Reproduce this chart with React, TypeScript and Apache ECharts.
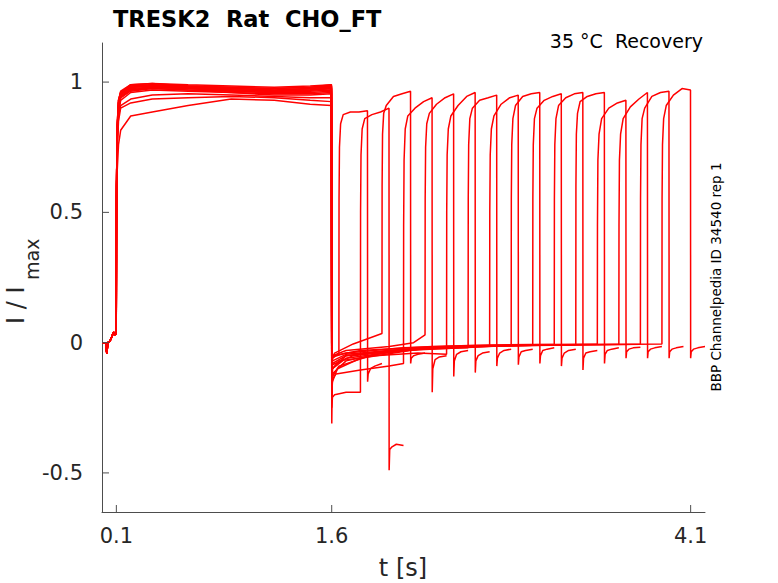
import { useEffect, useRef } from "react";
import * as echarts from "echarts";

// ----- data -----
// shared baseline before the conditioning pulse (t, I/Imax)
const baseline: [number, number][] = [
    [0, 0], [0.025, 0], [0.034, -0.043], [0.04, 0.0], [0.055, 0.005],
    [0.07, 0.025], [0.08, 0.04], [0.09, 0.03], [0.099, 0.035],
];

// conditioning pulse 0.1 -> 1.6 s, one row per sweep
const preTimes = [0.1, 0.101, 0.106, 0.115, 0.13, 0.2, 0.35, 0.6, 0.9, 1.2, 1.45, 1.598];
const preLevels = [
    [0.035, 0.6, 0.82, 0.92, 0.96, 0.985, 0.99, 0.985, 0.975, 0.97, 0.975, 0.985],
    [0.035, 0.45, 0.66, 0.76, 0.815, 0.87, 0.885, 0.91, 0.935, 0.93, 0.915, 0.91],
    [0.035, 0.55, 0.8, 0.9, 0.94, 0.97, 0.98, 0.975, 0.97, 0.965, 0.97, 0.975],
    [0.035, 0.5, 0.74, 0.85, 0.9, 0.92, 0.935, 0.94, 0.945, 0.94, 0.93, 0.925],
    [0.035, 0.6, 0.83, 0.93, 0.96, 0.99, 0.995, 0.985, 0.98, 0.975, 0.98, 0.99],
    [0.035, 0.55, 0.78, 0.88, 0.93, 0.96, 0.97, 0.965, 0.96, 0.955, 0.955, 0.96],
    [0.035, 0.6, 0.82, 0.91, 0.95, 0.98, 0.985, 0.98, 0.97, 0.965, 0.97, 0.975],
    [0.035, 0.5, 0.76, 0.87, 0.91, 0.935, 0.95, 0.955, 0.95, 0.945, 0.94, 0.94],
    [0.035, 0.6, 0.84, 0.93, 0.965, 0.99, 0.995, 0.99, 0.985, 0.98, 0.985, 0.99],
    [0.035, 0.55, 0.8, 0.9, 0.945, 0.975, 0.98, 0.975, 0.965, 0.96, 0.965, 0.97],
    [0.035, 0.6, 0.82, 0.92, 0.955, 0.98, 0.985, 0.98, 0.975, 0.97, 0.975, 0.98],
    [0.035, 0.55, 0.78, 0.89, 0.94, 0.965, 0.975, 0.97, 0.96, 0.95, 0.95, 0.955],
    [0.035, 0.6, 0.83, 0.93, 0.96, 0.985, 0.99, 0.985, 0.98, 0.975, 0.98, 0.985],
    [0.035, 0.55, 0.79, 0.9, 0.94, 0.97, 0.975, 0.97, 0.965, 0.96, 0.96, 0.965],
    [0.035, 0.6, 0.82, 0.92, 0.955, 0.98, 0.985, 0.98, 0.97, 0.965, 0.97, 0.98],
    [0.035, 0.55, 0.8, 0.9, 0.945, 0.97, 0.98, 0.975, 0.97, 0.965, 0.97, 0.975],
];

// tail currents between the two pulses (t, I/Imax)
const recoveryTails: [number, number][][] = [
    [[1.6005, -0.12], [1.605, -0.06], [1.63, -0.05], [1.65, -0.045]],
    [[1.6005, -0.25], [1.605, -0.21], [1.62, -0.2], [1.7, -0.19], [1.8, -0.19]],
    [[1.6005, -0.15], [1.605, -0.06], [1.62, -0.04], [1.75, -0.005], [1.95, 0.035]],
    [[1.6005, -0.2], [1.605, -0.14], [1.63, -0.12], [1.8, -0.105], [2.0, -0.09], [2.1, -0.08]],
    [[1.6005, -0.1], [1.605, -0.05], [1.7, -0.03], [2.0, -0.015], [2.17, 0.0], [2.25, 0.03]],
    [[1.6005, -0.18], [1.605, -0.1], [1.65, -0.07], [1.9, -0.05], [2.2, -0.04], [2.4, -0.045]],
    [[1.6005, -0.22], [1.605, -0.13], [1.65, -0.09], [1.9, -0.045], [2.2, -0.025], [2.55, -0.02]],
    [[1.6005, -0.15], [1.605, -0.08], [1.7, -0.05], [2.0, -0.03], [2.4, -0.015], [2.7, -0.012]],
    [[1.6005, -0.2], [1.605, -0.15], [1.64, -0.1], [1.8, -0.06], [2.2, -0.025], [2.6, -0.012], [2.85, -0.01]],
    [[1.6005, -0.13], [1.605, -0.07], [1.7, -0.045], [2.0, -0.03], [2.5, -0.015], [3.0, -0.01]],
    [[1.6005, -0.1], [1.605, -0.055], [1.7, -0.04], [2.1, -0.02], [2.6, -0.01], [3.15, -0.006]],
    [[1.6005, -0.2], [1.605, -0.12], [1.7, -0.07], [2.0, -0.035], [2.5, -0.015], [3.3, -0.008]],
    [[1.6005, -0.09], [1.605, -0.05], [1.8, -0.03], [2.3, -0.015], [3.0, -0.008], [3.45, -0.005]],
    [[1.6005, -0.16], [1.605, -0.085], [1.75, -0.05], [2.2, -0.022], [3.0, -0.01], [3.6, -0.006]],
    [[1.6005, -0.14], [1.605, -0.1], [1.7, -0.06], [2.1, -0.03], [2.8, -0.012], [3.75, -0.006]],
    [[1.6005, -0.31], [1.605, -0.1], [1.7, -0.05], [2.1, -0.025], [2.9, -0.01], [3.9, -0.005]],
];

// test pulse onsets (s)
const testStart = [1.65, 1.8, 1.95, 2.1, 2.25, 2.4, 2.55, 2.7, 2.85, 3.0, 3.15, 3.3, 3.45, 3.6, 3.75, 3.9];

// test pulse, time after onset (s) and level per sweep
const testOffsets = [0.001, 0.004, 0.012, 0.03, 0.08, 0.14, 0.199];
const testLevels = [
    [0.55, 0.75, 0.84, 0.875, 0.885, 0.885, 0.89],
    [0.5, 0.72, 0.82, 0.86, 0.875, 0.885, 0.9],
    [0.6, 0.8, 0.88, 0.91, 0.945, 0.955, 0.965],
    [0.45, 0.7, 0.82, 0.87, 0.9, 0.925, 0.94],
    [0.55, 0.75, 0.84, 0.88, 0.915, 0.94, 0.955],
    [0.5, 0.72, 0.82, 0.87, 0.91, 0.945, 0.96],
    [0.55, 0.76, 0.86, 0.9, 0.93, 0.94, 0.95],
    [0.5, 0.72, 0.82, 0.87, 0.915, 0.94, 0.95],
    [0.55, 0.76, 0.86, 0.91, 0.945, 0.955, 0.96],
    [0.55, 0.76, 0.86, 0.9, 0.93, 0.945, 0.955],
    [0.55, 0.76, 0.86, 0.91, 0.94, 0.955, 0.96],
    [0.6, 0.8, 0.88, 0.925, 0.945, 0.955, 0.96],
    [0.45, 0.7, 0.8, 0.86, 0.9, 0.92, 0.93],
    [0.45, 0.7, 0.8, 0.86, 0.905, 0.935, 0.96],
    [0.55, 0.76, 0.86, 0.9, 0.945, 0.96, 0.965],
    [0.55, 0.76, 0.86, 0.91, 0.95, 0.975, 0.97],
];

// tail after the test pulse, time after onset (s) and level per sweep
const postOffsets = [0.2, 0.204, 0.22, 0.25, 0.3];
const postLevels = [
    [-0.15, -0.12, -0.1, -0.09, -0.08],
    [-0.49, -0.41, -0.4, -0.39, -0.395],
    [-0.08, -0.06, -0.05, -0.045, -0.04],
    [-0.19, -0.1, -0.065, -0.055, -0.05],
    [-0.13, -0.07, -0.045, -0.035, -0.03],
    [-0.115, -0.07, -0.05, -0.04, -0.035],
    [-0.09, -0.06, -0.04, -0.03, -0.025],
    [-0.085, -0.055, -0.035, -0.03, -0.025],
    [-0.08, -0.05, -0.03, -0.025, -0.02],
    [-0.09, -0.06, -0.04, -0.03, -0.025],
    [-0.105, -0.06, -0.04, -0.035, -0.03],
    [-0.08, -0.045, -0.03, -0.025, -0.02],
    [-0.06, -0.035, -0.025, -0.02, -0.018],
    [-0.06, -0.035, -0.025, -0.02, -0.015],
    [-0.06, -0.035, -0.025, -0.02, -0.015],
    [-0.06, -0.035, -0.025, -0.02, -0.015],
];

const xTicks = [0.1, 1.6, 4.1];
const yTicks = [-0.5, 0, 0.5, 1];
const X_MIN = 0;
const X_MAX = 4.2;
const Y_MIN = -0.65;
const Y_MAX = 1.15;

const FONT = "'DejaVu Sans', sans-serif";
const AXIS_GREY = "#4d4d4d";
const TICK_LEN = 7;

function buildSweep(i: number): [number, number][] {
    const pts: [number, number][] = [...baseline];
    preTimes.forEach((t, k) => pts.push([t, preLevels[i][k]]));
    recoveryTails[i].forEach((p) => pts.push(p));
    const t0 = testStart[i];
    testOffsets.forEach((dt, k) => pts.push([t0 + dt, testLevels[i][k]]));
    postOffsets.forEach((dt, k) => pts.push([t0 + dt, postLevels[i][k]]));
    return pts;
}

export default function App() {
    const containerRef = useRef<HTMLDivElement | null>(null);

    useEffect(() => {
        if (!containerRef.current) return;
        const chart = echarts.init(containerRef.current, undefined, { renderer: "svg" });

        const series = testStart.map((_, i) => ({
            type: "line" as const,
            data: buildSweep(i),
            showSymbol: false,
            symbol: "none",
            silent: true,
            lineStyle: { width: 1.5, color: "#ff0000" },
        }));

        const texts: any[] = [
            {
                type: "text",
                x: 113,
                y: 19,
                style: {
                    text: "TRESK2  Rat  CHO_FT",
                    fontFamily: FONT,
                    fontWeight: "bold",
                    fontSize: 22.5,
                    fill: "#000000",
                    textAlign: "left",
                    textVerticalAlign: "middle",
                },
            },
            {
                type: "text",
                x: 703,
                y: 41,
                style: {
                    text: "35 °C  Recovery",
                    fontFamily: FONT,
                    fontSize: 19,
                    fill: "#000000",
                    textAlign: "right",
                    textVerticalAlign: "middle",
                },
            },
            {
                type: "text",
                x: 716,
                y: 277,
                rotation: Math.PI / 2,
                style: {
                    text: "BBP Channelpedia ID 34540 rep 1",
                    fontFamily: FONT,
                    fontSize: 13.5,
                    fill: "#000000",
                    textAlign: "center",
                    textVerticalAlign: "middle",
                },
            },
            {
                type: "text",
                x: 16,
                y: 324,
                rotation: Math.PI / 2,
                style: {
                    text: "I / I",
                    fontFamily: FONT,
                    fontSize: 24,
                    fill: "#262626",
                    textAlign: "left",
                    textVerticalAlign: "middle",
                },
            },
            {
                type: "text",
                x: 31.5,
                y: 280,
                rotation: Math.PI / 2,
                style: {
                    text: "max",
                    fontFamily: FONT,
                    fontSize: 19,
                    fill: "#262626",
                    textAlign: "left",
                    textVerticalAlign: "middle",
                },
            },
            {
                type: "text",
                x: 403,
                y: 568,
                style: {
                    text: "t [s]",
                    fontFamily: FONT,
                    fontSize: 24,
                    fill: "#262626",
                    textAlign: "center",
                    textVerticalAlign: "middle",
                },
            },
        ];

        const option: echarts.EChartsOption = {
            animation: false,
            backgroundColor: "#ffffff",
            grid: { left: 102, right: 73, top: 43, bottom: 71 },
            xAxis: {
                type: "value",
                min: X_MIN,
                max: X_MAX,
                axisLine: { onZero: false, lineStyle: { color: AXIS_GREY, width: 1 } },
                axisTick: { show: false },
                axisLabel: {
                    customValues: xTicks,
                    color: "#262626",
                    fontFamily: FONT,
                    fontSize: 21,
                    margin: 13,
                },
                splitLine: { show: false },
            },
            yAxis: {
                type: "value",
                min: Y_MIN,
                max: Y_MAX,
                axisLine: { show: true, onZero: false, lineStyle: { color: AXIS_GREY, width: 1 } },
                axisTick: { show: false },
                axisLabel: {
                    customValues: yTicks,
                    color: "#262626",
                    fontFamily: FONT,
                    fontSize: 21,
                    margin: 19,
                },
                splitLine: { show: false },
            },
            graphic: texts,
            series,
        };

        chart.setOption(option);

        // ----- inward tick marks, placed through the axes' own scales -----
        const ticks: any[] = [];
        xTicks.forEach((v) => {
            const [px, py] = chart.convertToPixel({ gridIndex: 0 }, [v, Y_MIN]) as number[];
            ticks.push({
                type: "line",
                shape: { x1: px, y1: py, x2: px, y2: py - TICK_LEN },
                style: { stroke: AXIS_GREY, lineWidth: 1 },
                z: 10,
            });
        });
        yTicks.forEach((v) => {
            const [px, py] = chart.convertToPixel({ gridIndex: 0 }, [X_MIN, v]) as number[];
            ticks.push({
                type: "line",
                shape: { x1: px, y1: py, x2: px + TICK_LEN, y2: py },
                style: { stroke: AXIS_GREY, lineWidth: 1 },
                z: 10,
            });
        });
        chart.setOption({ graphic: [...texts, ...ticks] });

        return () => {
            chart.dispose();
        };
    }, []);

    return (
        <div
            ref={containerRef}
            style={{ position: "fixed", left: 0, top: 0, width: 778, height: 583 }}
        />
    );
}
